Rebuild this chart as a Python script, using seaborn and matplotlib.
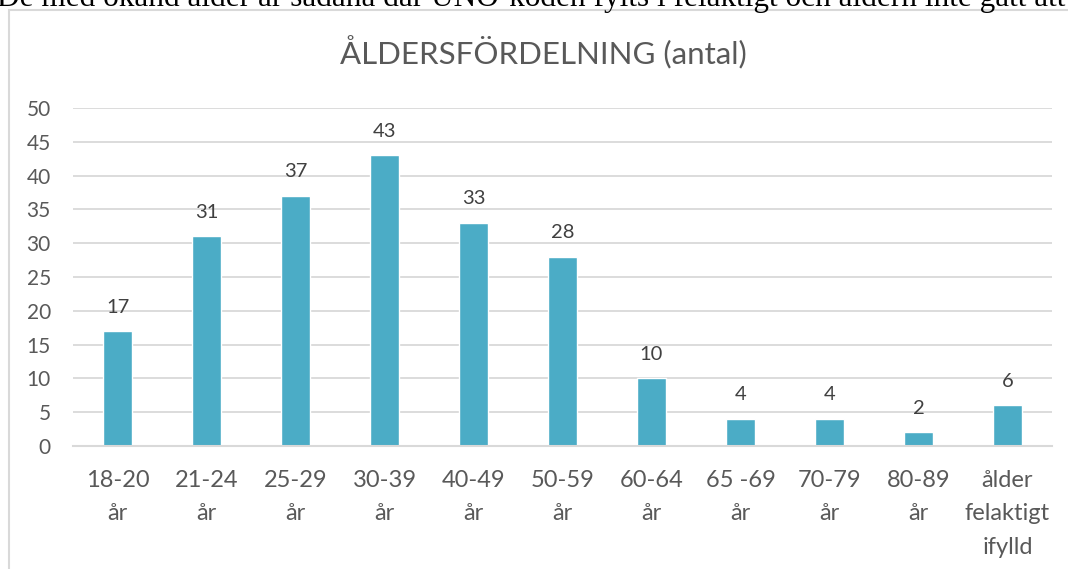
import matplotlib
matplotlib.use("Agg")
import matplotlib.pyplot as plt
import matplotlib.patches as mpatches
import seaborn as sns
import pandas as pd

# Data
categories = ["18-20\når", "21-24\når", "25-29\når", "30-39\når", "40-49\når", "50-59\når",
              "60-64\når", "65 -69\når", "70-79\når", "80-89\når", "ålder\nfelaktigt\nifylld"]
antal = [17, 31, 37, 43, 33, 28, 10, 4, 4, 2, 6]
title = "ÅLDERSFÖRDELNING (antal)"
top_text = "De med okänd ålder är sådana där UNO-koden fylts i felaktigt och åldern inte gått att"

sns.set_theme(style="white")
plt.rcParams['font.family'] = ['Lato', 'DejaVu Sans']

df = pd.DataFrame({"kategori": categories, "antal": antal})

W, H = 1068, 569
fig = plt.figure(figsize=(W / 100, H / 100), dpi=100)
fig.patch.set_facecolor("white")

# axes placement (pixel based)
left, right, bottom, top = 73, 1052, 446, 108
ax = fig.add_axes([left / W, 1 - bottom / H, (right - left) / W, (bottom - top) / H])

sns.barplot(data=df, x="kategori", y="antal", color="#4BACC6", saturation=1,
            width=0.32, ax=ax)

ax.set_ylim(0, 50)
ax.set_xlim(-0.5, len(categories) - 0.5)
ax.set_yticks(range(0, 51, 5))
ax.yaxis.grid(True, color="#D9D9D9", linewidth=1.3)
ax.set_axisbelow(True)
for s in ["top", "right", "left"]:
    ax.spines[s].set_visible(False)
ax.spines["bottom"].set_color("#D9D9D9")
ax.spines["bottom"].set_linewidth(1.5)
ax.set_xlabel("")
ax.set_ylabel("")
ax.tick_params(axis="y", length=0, pad=16, labelsize=15, labelcolor="#595959")
ax.tick_params(axis="x", length=0, pad=17, labelsize=17, labelcolor="#595959")
for lbl in ax.get_xticklabels():
    lbl.set_linespacing(1.75)

for i, v in enumerate(antal):
    ax.text(i, v + 2.3, str(v), ha="center", va="bottom", fontsize=14.5, color="#404040")

fig.text(543 / W, 1 - 52 / H, title, ha="center", va="center", fontsize=22.5, color="#595959")

# chart border
border = mpatches.Rectangle((9 / W, -0.05), 1.2, 1 - 10 / H + 0.05, transform=fig.transFigure,
                            fill=False, edgecolor="#D9D9D9", linewidth=1.5)
fig.patches.append(border)

# cut-off line of document text above the chart
fig.text(-0.003, 1 - 6 / H, top_text, ha="left", va="baseline", fontsize=22.5,
         family="Liberation Serif", color="black")

fig.savefig("out.png", dpi=100, facecolor="white")
